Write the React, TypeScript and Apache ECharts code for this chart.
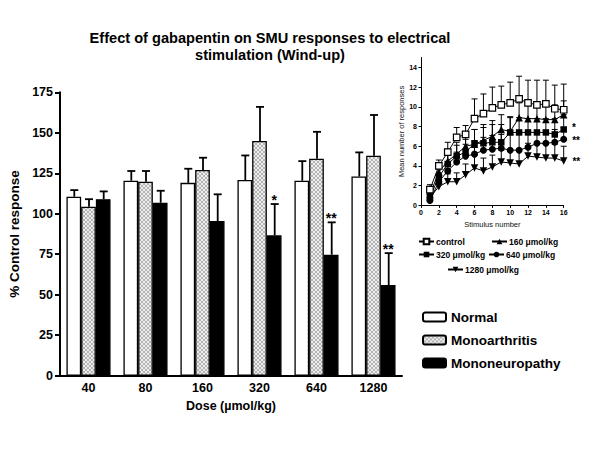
import React, { useEffect, useRef } from 'react';
import * as echarts from 'echarts';

// ---- Main chart data ----
const doses = ['40', '80', '160', '320', '640', '1280'];
const normal = [110.5, 120.4, 119.1, 120.8, 120.4, 123.0];
const normalErr = [4.1, 6.0, 8.7, 15.2, 12.1, 14.9];
const monoarthritis = [104.3, 119.8, 127.0, 145.0, 134.0, 135.8];
const monoarthritisErr = [4.7, 6.6, 7.6, 21.0, 16.6, 25.2];
const mononeuropathy = [109.0, 106.8, 95.5, 86.7, 74.7, 56.0];
const mononeuropathyErr = [4.8, 7.4, 16.5, 19.3, 20.0, 19.7];
const significance = ['', '', '', '*', '**', '**'];

// ---- Inset data ----
const stimuli = [1, 2, 3, 4, 5, 6, 7, 8, 9, 10, 11, 12, 13, 14, 15, 16];
const control = [1.6, 4.0, 5.4, 6.9, 7.2, 8.8, 9.3, 9.9, 10.2, 10.4, 10.8, 10.4, 10.2, 10.3, 9.8, 9.7];
const controlErr = [0.5, 0.6, 1.0, 1.0, 0.9, 2.0, 2.0, 2.1, 1.9, 2.1, 2.3, 2.3, 2.5, 2.4, 2.4, 2.6];
const dose160 = [1.1, 3.4, 4.5, 5.2, 6.0, 6.2, 6.6, 7.0, 7.7, 7.5, 8.9, 8.8, 8.8, 8.7, 8.7, 9.2];
const dose160Err = [0.4, 0.9, 1.2, 1.2, 1.4, 1.5, 1.6, 1.6, 1.5, 1.5, 1.5, 1.4, 1.4, 1.4, 1.5, 1.4];
const dose320 = [0.8, 2.9, 4.2, 5.0, 5.4, 6.3, 6.3, 6.4, 6.4, 7.4, 7.4, 7.4, 7.4, 7.4, 7.2, 7.7];
const dose320Err = [0.4, 0.8, 1.0, 1.1, 1.3, 1.4, 1.6, 1.8, 1.8, 1.5, 1.5, 1.4, 1.4, 1.4, 1.6, 1.5];
const dose640 = [0.5, 2.4, 3.5, 4.4, 5.0, 5.2, 5.6, 5.7, 5.8, 5.6, 5.6, 5.9, 6.3, 6.3, 6.4, 6.7];
const dose640Err = [0.3, 0.7, 0.9, 1.0, 1.2, 1.3, 1.3, 1.4, 1.4, 1.6, 1.6, 1.4, 1.3, 1.3, 1.3, 1.2];
const dose1280 = [0.8, 1.9, 2.4, 2.4, 3.1, 3.8, 3.5, 3.9, 4.4, 4.3, 4.2, 5.0, 4.9, 4.8, 4.8, 4.5];
const dose1280Err = [0.3, 0.5, 0.8, 0.9, 1.1, 1.3, 1.3, 1.2, 1.2, 1.3, 1.3, 1.3, 1.3, 1.4, 1.4, 1.5];
const insetStars = ['', '', '*', '**', '**'];
const insetNames = ['control', '160 \u03bcmol/kg', '320 \u03bcmol/kg', '640 \u03bcmol/kg', '1280 \u03bcmol/kg'];

const FONT = '"Liberation Sans", Arial, Helvetica, sans-serif';
const BAR_W = 14.7;

function makePattern(): HTMLCanvasElement {
  const c = document.createElement('canvas');
  c.width = 4;
  c.height = 4;
  const ctx = c.getContext('2d')!;
  ctx.fillStyle = '#ededed';
  ctx.fillRect(0, 0, 4, 4);
  ctx.fillStyle = '#b4b4b4';
  for (let y = 0; y < 4; y++) {
    for (let x = 0; x < 4; x++) {
      if (x === y || x === 3 - y) ctx.fillRect(x, y, 1, 1);
    }
  }
  return c;
}

function barErrRender(offset: number, stars?: string[]) {
  return (params: any, api: any) => {
    const i = api.value(0);
    const v = api.value(1);
    const e = api.value(2);
    const base = api.coord([i, v]);
    const top = api.coord([i, v + e]);
    const x = base[0] + offset + 0.5;
    const children: any[] = [
      { type: 'line', shape: { x1: x, y1: base[1], x2: x, y2: top[1] }, style: { stroke: '#000', lineWidth: 1.8 } },
      { type: 'line', shape: { x1: x - 4, y1: top[1], x2: x + 4, y2: top[1] }, style: { stroke: '#000', lineWidth: 1.8 } },
    ];
    if (stars && stars[i]) {
      children.push({
        type: 'text',
        x: x - 0.5,
        y: top[1] - 4,
        style: { text: stars[i], font: `bold 14px ${FONT}`, fill: '#000', align: 'center', verticalAlign: 'middle' },
      });
    }
    return { type: 'group', children };
  };
}

function lineErrRender() {
  return (params: any, api: any) => {
    const k = api.value(0);
    const v = api.value(1);
    const e = api.value(2);
    const base = api.coord([k, v]);
    const top = api.coord([k, v + e]);
    const x = base[0];
    return {
      type: 'group',
      children: [
        { type: 'line', shape: { x1: x, y1: base[1], x2: x, y2: top[1] }, style: { stroke: '#000', lineWidth: 1 } },
        { type: 'line', shape: { x1: x - 3, y1: top[1], x2: x + 3, y2: top[1] }, style: { stroke: '#000', lineWidth: 1 } },
      ],
    };
  };
}

export default function App() {
  const ref = useRef<HTMLDivElement>(null);

  useEffect(() => {
    if (!ref.current) return;
    const chart = echarts.init(ref.current, undefined, { renderer: 'svg' });
    const pattern = { image: makePattern(), repeat: 'repeat' };

    const barSeries = [
      { name: 'Normal', data: normal, color: '#ffffff' },
      { name: 'Monoarthritis', data: monoarthritis, color: pattern },
      { name: 'Mononeuropathy', data: mononeuropathy, color: '#000000' },
    ].map((s) => ({
      type: 'bar',
      name: s.name,
      data: s.data,
      xAxisIndex: 0,
      yAxisIndex: 0,
      barWidth: BAR_W,
      barGap: '0%',
      itemStyle: { color: s.color as any, borderColor: '#000', borderWidth: 1.3 },
      z: 2,
    }));

    const errs = [normalErr, monoarthritisErr, mononeuropathyErr];
    const means = [normal, monoarthritis, mononeuropathy];
    const errSeries = errs.map((err, si) => ({
      type: 'custom',
      name: 'err' + si,
      xAxisIndex: 0,
      yAxisIndex: 0,
      z: 3,
      renderItem: barErrRender((si - 1) * BAR_W, si === 2 ? significance : undefined),
      data: doses.map((_, i) => [i, means[si][i], err[i]]),
      encode: { x: 0, y: 1 },
      silent: true,
    }));

    const insetVals = [control, dose160, dose320, dose640, dose1280];
    const insetErrs = [controlErr, dose160Err, dose320Err, dose640Err, dose1280Err];
    const symbols = ['rect', 'triangle', 'rect', 'circle', 'path://M0,0 L10,0 L5,9 Z'];
    const symSizes = [6.5, 7.5, 6.5, 7, 7.5];
    const starOffsets = [0, 0, -2, 1, 0];

    const insetLines = insetVals.map((vals, si) => ({
      type: 'line',
      name: insetNames[si],
      xAxisIndex: 1,
      yAxisIndex: 1,
      symbol: symbols[si],
      symbolSize: symSizes[si],
      z: 5 - si * 0.1,
      lineStyle: { color: '#000', width: 1 },
      itemStyle: {
        color: si === 0 ? '#ffffff' : '#000000',
        borderColor: '#000',
        borderWidth: si === 0 ? 1.2 : 0,
      },
      data: stimuli.map((k, i) => {
        const item: any = { value: [k, vals[i]] };
        if (i === stimuli.length - 1 && insetStars[si]) {
          item.label = {
            show: true,
            position: 'right',
            distance: 5,
            offset: [0, starOffsets[si]],
            formatter: insetStars[si],
            fontSize: 10,
            fontWeight: 'bold',
            color: '#000',
            fontFamily: FONT,
          };
        }
        return item;
      }),
    }));

    const insetErrSeries = insetVals.map((vals, si) => ({
      type: 'custom',
      name: 'ierr' + si,
      xAxisIndex: 1,
      yAxisIndex: 1,
      z: 4,
      renderItem: lineErrRender(),
      data: stimuli.map((k, i) => [k, vals[i], insetErrs[si][i]]),
      encode: { x: 0, y: 1 },
      silent: true,
    }));

    const insetLegendPos = [
      { left: 418, top: 237 },
      { left: 491, top: 237 },
      { left: 418, top: 250 },
      { left: 488, top: 250 },
      { left: 447, top: 265 },
    ];

    const insetLegends = insetNames.map((n, i) => ({
      data: [n],
      left: insetLegendPos[i].left,
      top: insetLegendPos[i].top,
      padding: 0,
      itemWidth: 15,
      itemHeight: 7,
      itemGap: 0,
      selectedMode: false,
      textStyle: { fontSize: 8.5, fontWeight: 'bold', color: '#000', fontFamily: FONT, padding: [0, 0, 0, -3] },
    }));

    chart.setOption({
      animation: false,
      backgroundColor: '#ffffff',
      textStyle: { fontFamily: FONT },
      title: {
        text: 'Effect of gabapentin on SMU responses to electrical\nstimulation (Wind-up)',
        left: 270,
        top: 29.5,
        padding: 0,
        textAlign: 'center',
        textStyle: { fontSize: 14.6, fontWeight: 'bold', color: '#000', lineHeight: 17, fontFamily: FONT },
      },
      legend: [
        {
          data: ['Normal', 'Monoarthritis', 'Mononeuropathy'],
          orient: 'vertical',
          left: 422,
          top: 310,
          padding: 0,
          itemWidth: 23,
          itemHeight: 9,
          itemGap: 9,
          selectedMode: false,
          textStyle: { fontSize: 13.5, fontWeight: 'bold', color: '#000', fontFamily: FONT },
        },
        ...insetLegends,
      ],
      grid: [
        { left: 60, right: 198, top: 92.3, bottom: 74.3, containLabel: false, outerBoundsMode: 'none' },
        { left: 421, right: 36.3, top: 57.5, bottom: 244.6, containLabel: false, outerBoundsMode: 'none' },
      ],
      xAxis: [
        {
          type: 'category',
          gridIndex: 0,
          data: doses,
          axisLine: { lineStyle: { color: '#000', width: 2 } },
          axisTick: { show: false },
          axisLabel: { color: '#000', fontSize: 12.5, fontWeight: 'bold', margin: 6, fontFamily: FONT },
          name: 'Dose (\u00b5mol/kg)',
          nameLocation: 'middle',
          nameGap: 21,
          nameTextStyle: { color: '#000', fontSize: 12.5, fontWeight: 'bold', fontFamily: FONT },
        },
        {
          type: 'value',
          gridIndex: 1,
          min: 0,
          max: 16,
          interval: 2,
          splitLine: { show: false },
          axisLine: { onZero: false, lineStyle: { color: '#000', width: 1 } },
          axisTick: { length: 2.5, lineStyle: { color: '#000', width: 1 } },
          axisLabel: { color: '#000', fontSize: 7, fontWeight: 'bold', margin: 4, fontFamily: FONT },
          name: 'Stimulus number',
          nameLocation: 'middle',
          nameGap: 15,
          nameTextStyle: { color: '#111111', fontSize: 7.5, fontFamily: FONT },
        },
      ],
      yAxis: [
        {
          type: 'value',
          gridIndex: 0,
          min: 0,
          max: 175,
          interval: 25,
          splitLine: { show: false },
          axisLine: { show: true, lineStyle: { color: '#000', width: 2 } },
          axisTick: { show: true, length: 5, lineStyle: { color: '#000', width: 2 } },
          axisLabel: { color: '#000', fontSize: 12.5, fontWeight: 'bold', margin: 7, fontFamily: FONT },
          name: '% Control response',
          nameLocation: 'middle',
          nameGap: 27,
          nameTextStyle: { color: '#000', fontSize: 13.5, fontWeight: 'bold', fontFamily: FONT },
        },
        {
          type: 'value',
          gridIndex: 1,
          min: 0,
          max: 15,
          splitLine: { show: false },
          axisLine: { show: true, onZero: false, lineStyle: { color: '#000', width: 1 } },
          axisTick: { show: true, length: 2.5, lineStyle: { color: '#000', width: 1 }, customValues: [0, 2, 4, 6, 8, 10, 12, 14] },
          axisLabel: { color: '#000', fontSize: 7, fontWeight: 'bold', margin: 4, fontFamily: FONT, customValues: [0, 2, 4, 6, 8, 10, 12, 14] },
          name: 'Mean number of responses',
          nameLocation: 'middle',
          nameGap: 14,
          nameTextStyle: { color: '#111111', fontSize: 7.5, fontFamily: FONT },
        },
      ],
      series: [...barSeries, ...errSeries, ...insetErrSeries, ...insetLines],
    } as any);

    return () => {
      chart.dispose();
    };
  }, []);

  return <div ref={ref} style={{ width: 600, height: 450, margin: -8 }} />;
}
